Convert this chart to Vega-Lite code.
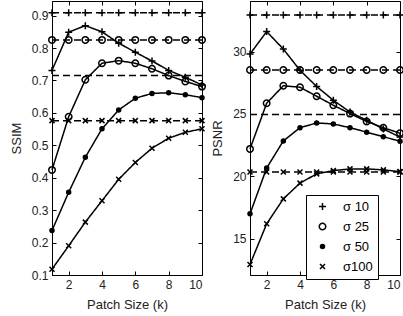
{
"$schema": "https://vega.github.io/schema/vega-lite/v6.json",
"padding": {"left": 9, "top": 0, "right": 5, "bottom": 5},
"spacing": 2,
"resolve": {"scale": {"shape": "independent", "fill": "independent", "stroke": "independent", "size": "independent", "strokeDash": "independent"}, "legend": {"shape": "independent", "fill": "independent", "stroke": "independent", "size": "independent", "strokeDash": "independent"}},
"config": {
  "font": "Liberation Sans",
  "view": {"stroke": "black", "strokeWidth": 1},
  "axis": {"domainColor": "black", "tickColor": "black", "tickSize": -4, "labelPadding": 8, "labelFontSize": 12, "labelColor": "#222", "titleFontSize": 13, "titleFontWeight": "normal", "titleColor": "#222", "titlePadding": 8, "grid": false, "labelFont": "Liberation Sans", "titleFont": "Liberation Sans"},
  "legend": {"orient": "none", "legendX": 56, "legendY": 194, "title": null, "strokeColor": "black", "fillColor": "white", "padding": 5, "symbolOffset": 5, "labelOffset": 14, "rowPadding": 6, "labelFontSize": 13, "labelColor": "black", "labelFont": "Liberation Sans", "symbolStrokeColor": "black", "symbolStrokeWidth": 1.5}
},
"datasets": {"d": [
{"m":"S","s":"σ 10","t":"c","k":1,"v":0.731},{"m":"S","s":"σ 10","t":"c","k":2,"v":0.849},{"m":"S","s":"σ 10","t":"c","k":3,"v":0.869},{"m":"S","s":"σ 10","t":"c","k":4,"v":0.850},{"m":"S","s":"σ 10","t":"c","k":5,"v":0.815},{"m":"S","s":"σ 10","t":"c","k":6,"v":0.787},{"m":"S","s":"σ 10","t":"c","k":7,"v":0.760},{"m":"S","s":"σ 10","t":"c","k":8,"v":0.731},{"m":"S","s":"σ 10","t":"c","k":9,"v":0.710},{"m":"S","s":"σ 10","t":"c","k":10,"v":0.686},
{"m":"S","s":"σ 25","t":"c","k":1,"v":0.424},{"m":"S","s":"σ 25","t":"c","k":2,"v":0.588},{"m":"S","s":"σ 25","t":"c","k":3,"v":0.702},{"m":"S","s":"σ 25","t":"c","k":4,"v":0.753},{"m":"S","s":"σ 25","t":"c","k":5,"v":0.761},{"m":"S","s":"σ 25","t":"c","k":6,"v":0.753},{"m":"S","s":"σ 25","t":"c","k":7,"v":0.736},{"m":"S","s":"σ 25","t":"c","k":8,"v":0.715},{"m":"S","s":"σ 25","t":"c","k":9,"v":0.697},{"m":"S","s":"σ 25","t":"c","k":10,"v":0.681},
{"m":"S","s":"σ 50","t":"c","k":1,"v":0.237},{"m":"S","s":"σ 50","t":"c","k":2,"v":0.355},{"m":"S","s":"σ 50","t":"c","k":3,"v":0.463},{"m":"S","s":"σ 50","t":"c","k":4,"v":0.551},{"m":"S","s":"σ 50","t":"c","k":5,"v":0.609},{"m":"S","s":"σ 50","t":"c","k":6,"v":0.645},{"m":"S","s":"σ 50","t":"c","k":7,"v":0.660},{"m":"S","s":"σ 50","t":"c","k":8,"v":0.662},{"m":"S","s":"σ 50","t":"c","k":9,"v":0.656},{"m":"S","s":"σ 50","t":"c","k":10,"v":0.647},
{"m":"S","s":"σ100","t":"c","k":1,"v":0.118},{"m":"S","s":"σ100","t":"c","k":2,"v":0.190},{"m":"S","s":"σ100","t":"c","k":3,"v":0.263},{"m":"S","s":"σ100","t":"c","k":4,"v":0.329},{"m":"S","s":"σ100","t":"c","k":5,"v":0.395},{"m":"S","s":"σ100","t":"c","k":6,"v":0.447},{"m":"S","s":"σ100","t":"c","k":7,"v":0.491},{"m":"S","s":"σ100","t":"c","k":8,"v":0.522},{"m":"S","s":"σ100","t":"c","k":9,"v":0.540},{"m":"S","s":"σ100","t":"c","k":10,"v":0.551},
{"m":"S","s":"σ 10","t":"b","k":1,"v":0.909},{"m":"S","s":"σ 10","t":"b","k":2,"v":0.909},{"m":"S","s":"σ 10","t":"b","k":3,"v":0.909},{"m":"S","s":"σ 10","t":"b","k":4,"v":0.909},{"m":"S","s":"σ 10","t":"b","k":5,"v":0.909},{"m":"S","s":"σ 10","t":"b","k":6,"v":0.909},{"m":"S","s":"σ 10","t":"b","k":7,"v":0.909},{"m":"S","s":"σ 10","t":"b","k":8,"v":0.909},{"m":"S","s":"σ 10","t":"b","k":9,"v":0.909},{"m":"S","s":"σ 10","t":"b","k":10,"v":0.909},
{"m":"S","s":"σ 25","t":"b","k":1,"v":0.825},{"m":"S","s":"σ 25","t":"b","k":2,"v":0.825},{"m":"S","s":"σ 25","t":"b","k":3,"v":0.825},{"m":"S","s":"σ 25","t":"b","k":4,"v":0.825},{"m":"S","s":"σ 25","t":"b","k":5,"v":0.825},{"m":"S","s":"σ 25","t":"b","k":6,"v":0.825},{"m":"S","s":"σ 25","t":"b","k":7,"v":0.825},{"m":"S","s":"σ 25","t":"b","k":8,"v":0.825},{"m":"S","s":"σ 25","t":"b","k":9,"v":0.825},{"m":"S","s":"σ 25","t":"b","k":10,"v":0.825},
{"m":"S","s":"σ 50","t":"b","k":1,"v":0.715},{"m":"S","s":"σ 50","t":"b","k":10,"v":0.715},
{"m":"S","s":"σ100","t":"b","k":1,"v":0.576},{"m":"S","s":"σ100","t":"b","k":2,"v":0.576},{"m":"S","s":"σ100","t":"b","k":3,"v":0.576},{"m":"S","s":"σ100","t":"b","k":4,"v":0.576},{"m":"S","s":"σ100","t":"b","k":5,"v":0.576},{"m":"S","s":"σ100","t":"b","k":6,"v":0.576},{"m":"S","s":"σ100","t":"b","k":7,"v":0.576},{"m":"S","s":"σ100","t":"b","k":8,"v":0.576},{"m":"S","s":"σ100","t":"b","k":9,"v":0.576},{"m":"S","s":"σ100","t":"b","k":10,"v":0.576},
{"m":"P","s":"σ 10","t":"c","k":1,"v":29.8},{"m":"P","s":"σ 10","t":"c","k":2,"v":31.6},{"m":"P","s":"σ 10","t":"c","k":3,"v":30.2},{"m":"P","s":"σ 10","t":"c","k":4,"v":28.5},{"m":"P","s":"σ 10","t":"c","k":5,"v":27.2},{"m":"P","s":"σ 10","t":"c","k":6,"v":26.1},{"m":"P","s":"σ 10","t":"c","k":7,"v":25.15},{"m":"P","s":"σ 10","t":"c","k":8,"v":24.5},{"m":"P","s":"σ 10","t":"c","k":9,"v":23.8},{"m":"P","s":"σ 10","t":"c","k":10,"v":23.15},
{"m":"P","s":"σ 25","t":"c","k":1,"v":22.2},{"m":"P","s":"σ 25","t":"c","k":2,"v":25.86},{"m":"P","s":"σ 25","t":"c","k":3,"v":27.26},{"m":"P","s":"σ 25","t":"c","k":4,"v":27.14},{"m":"P","s":"σ 25","t":"c","k":5,"v":26.42},{"m":"P","s":"σ 25","t":"c","k":6,"v":25.7},{"m":"P","s":"σ 25","t":"c","k":7,"v":25.03},{"m":"P","s":"σ 25","t":"c","k":8,"v":24.4},{"m":"P","s":"σ 25","t":"c","k":9,"v":23.9},{"m":"P","s":"σ 25","t":"c","k":10,"v":23.46},
{"m":"P","s":"σ 50","t":"c","k":1,"v":17.0},{"m":"P","s":"σ 50","t":"c","k":2,"v":20.67},{"m":"P","s":"σ 50","t":"c","k":3,"v":22.84},{"m":"P","s":"σ 50","t":"c","k":4,"v":23.9},{"m":"P","s":"σ 50","t":"c","k":5,"v":24.28},{"m":"P","s":"σ 50","t":"c","k":6,"v":24.2},{"m":"P","s":"σ 50","t":"c","k":7,"v":23.9},{"m":"P","s":"σ 50","t":"c","k":8,"v":23.54},{"m":"P","s":"σ 50","t":"c","k":9,"v":23.18},{"m":"P","s":"σ 50","t":"c","k":10,"v":22.82},
{"m":"P","s":"σ100","t":"c","k":1,"v":12.94},{"m":"P","s":"σ100","t":"c","k":2,"v":16.2},{"m":"P","s":"σ100","t":"c","k":3,"v":18.2},{"m":"P","s":"σ100","t":"c","k":4,"v":19.46},{"m":"P","s":"σ100","t":"c","k":5,"v":20.2},{"m":"P","s":"σ100","t":"c","k":6,"v":20.46},{"m":"P","s":"σ100","t":"c","k":7,"v":20.6},{"m":"P","s":"σ100","t":"c","k":8,"v":20.6},{"m":"P","s":"σ100","t":"c","k":9,"v":20.52},{"m":"P","s":"σ100","t":"c","k":10,"v":20.38},
{"m":"P","s":"σ 10","t":"b","k":1,"v":32.92},{"m":"P","s":"σ 10","t":"b","k":2,"v":32.92},{"m":"P","s":"σ 10","t":"b","k":3,"v":32.92},{"m":"P","s":"σ 10","t":"b","k":4,"v":32.92},{"m":"P","s":"σ 10","t":"b","k":5,"v":32.92},{"m":"P","s":"σ 10","t":"b","k":6,"v":32.92},{"m":"P","s":"σ 10","t":"b","k":7,"v":32.92},{"m":"P","s":"σ 10","t":"b","k":8,"v":32.92},{"m":"P","s":"σ 10","t":"b","k":9,"v":32.92},{"m":"P","s":"σ 10","t":"b","k":10,"v":32.92},
{"m":"P","s":"σ 25","t":"b","k":1,"v":28.52},{"m":"P","s":"σ 25","t":"b","k":2,"v":28.52},{"m":"P","s":"σ 25","t":"b","k":3,"v":28.52},{"m":"P","s":"σ 25","t":"b","k":4,"v":28.52},{"m":"P","s":"σ 25","t":"b","k":5,"v":28.52},{"m":"P","s":"σ 25","t":"b","k":6,"v":28.52},{"m":"P","s":"σ 25","t":"b","k":7,"v":28.52},{"m":"P","s":"σ 25","t":"b","k":8,"v":28.52},{"m":"P","s":"σ 25","t":"b","k":9,"v":28.52},{"m":"P","s":"σ 25","t":"b","k":10,"v":28.52},
{"m":"P","s":"σ 50","t":"b","k":1,"v":24.96},{"m":"P","s":"σ 50","t":"b","k":10,"v":24.96},
{"m":"P","s":"σ100","t":"b","k":1,"v":20.35},{"m":"P","s":"σ100","t":"b","k":2,"v":20.35},{"m":"P","s":"σ100","t":"b","k":3,"v":20.35},{"m":"P","s":"σ100","t":"b","k":4,"v":20.35},{"m":"P","s":"σ100","t":"b","k":5,"v":20.35},{"m":"P","s":"σ100","t":"b","k":6,"v":20.35},{"m":"P","s":"σ100","t":"b","k":7,"v":20.35},{"m":"P","s":"σ100","t":"b","k":8,"v":20.35},{"m":"P","s":"σ100","t":"b","k":9,"v":20.35},{"m":"P","s":"σ100","t":"b","k":10,"v":20.35}
]},
"hconcat": [
{
  "width": 150, "height": 274,
  "data": {"name": "d"},
  "transform": [{"filter": "datum.m == 'S'"}],
  "layer": [
    {"mark": {"type": "line", "color": "black", "strokeWidth": 1.5},
     "encoding": {
       "x": {"field": "k", "type": "quantitative", "scale": {"domain": [1, 10], "nice": false, "zero": false}, "axis": {"values": [2,4,6,8,10], "title": "Patch Size (k)"}},
       "y": {"field": "v", "type": "quantitative", "scale": {"domain": [0.1, 0.945], "nice": false, "zero": false}, "axis": {"values": [0.1,0.2,0.3,0.4,0.5,0.6,0.7,0.8,0.9], "format": ".1f", "title": "SSIM"}},
       "detail": [{"field": "s"}, {"field": "t"}],
       "strokeDash": {"field": "t", "type": "nominal", "scale": {"domain": ["c","b"], "range": [[1,0],[7,4]]}, "legend": null}
     }},
    {"transform": [{"filter": "datum.t == 'c' || datum.s != 'σ 50'"}],
     "mark": {"type": "point", "filled": true, "strokeWidth": 1.5, "opacity": 1},
     "encoding": {
       "x": {"field": "k", "type": "quantitative", "axis": {"orient": "top", "values": [2,4,6,8,10], "labels": false, "title": null, "domain": false}},
       "y": {"field": "v", "type": "quantitative", "axis": {"orient": "right", "values": [0.1,0.2,0.3,0.4,0.5,0.6,0.7,0.8,0.9], "labels": false, "title": null, "domain": false}},
       "shape": {"field": "s", "type": "nominal", "scale": {"domain": ["σ 10","σ 25","σ 50","σ100"], "range": ["M-1,0H1M0,-1V1", "circle", "circle", "M-1,-1L1,1M-1,1L1,-1"]}, "legend": null},
       "fill": {"field": "s", "type": "nominal", "scale": {"domain": ["σ 10","σ 25","σ 50","σ100"], "range": ["black", "transparent", "black", "black"]}, "legend": null},
       "stroke": {"field": "s", "type": "nominal", "scale": {"domain": ["σ 10","σ 25","σ 50","σ100"], "range": ["black", "black", "black", "black"]}, "legend": null},
       "size": {"field": "s", "type": "nominal", "scale": {"type": "ordinal", "domain": ["σ 10","σ 25","σ 50","σ100"], "range": [49, 42, 16, 25]}, "legend": null}
     }}
  ],
  "resolve": {"axis": {"x": "independent", "y": "independent"}}
},
{
  "width": 150, "height": 274,
  "data": {"name": "d"},
  "transform": [{"filter": "datum.m == 'P'"}],
  "layer": [
    {"mark": {"type": "line", "color": "black", "strokeWidth": 1.5},
     "encoding": {
       "x": {"field": "k", "type": "quantitative", "scale": {"domain": [1, 10], "nice": false, "zero": false}, "axis": {"values": [2,4,6,8,10], "title": "Patch Size (k)"}},
       "y": {"field": "v", "type": "quantitative", "scale": {"domain": [12.1, 34.05], "nice": false, "zero": false}, "axis": {"values": [15,20,25,30], "title": "PSNR"}},
       "detail": [{"field": "s"}, {"field": "t"}],
       "strokeDash": {"field": "t", "type": "nominal", "scale": {"domain": ["c","b"], "range": [[1,0],[7,4]]}, "legend": null}
     }},
    {"transform": [{"filter": "datum.t == 'c' || datum.s != 'σ 50'"}],
     "mark": {"type": "point", "filled": true, "strokeWidth": 1.5, "opacity": 1},
     "encoding": {
       "x": {"field": "k", "type": "quantitative", "axis": {"orient": "top", "values": [2,4,6,8,10], "labels": false, "title": null, "domain": false}},
       "y": {"field": "v", "type": "quantitative", "axis": {"orient": "right", "values": [15,20,25,30], "labels": false, "title": null, "domain": false}},
       "shape": {"field": "s", "type": "nominal", "scale": {"domain": ["σ 10","σ 25","σ 50","σ100"], "range": ["M-1,0H1M0,-1V1", "circle", "circle", "M-1,-1L1,1M-1,1L1,-1"]}},
       "fill": {"field": "s", "type": "nominal", "scale": {"domain": ["σ 10","σ 25","σ 50","σ100"], "range": ["black", "transparent", "black", "black"]}},
       "stroke": {"field": "s", "type": "nominal", "scale": {"domain": ["σ 10","σ 25","σ 50","σ100"], "range": ["black", "black", "black", "black"]}},
       "size": {"field": "s", "type": "nominal", "scale": {"type": "ordinal", "domain": ["σ 10","σ 25","σ 50","σ100"], "range": [49, 42, 16, 25]}}
     }}
  ],
  "resolve": {"axis": {"x": "independent", "y": "independent"}}
}
]
}
